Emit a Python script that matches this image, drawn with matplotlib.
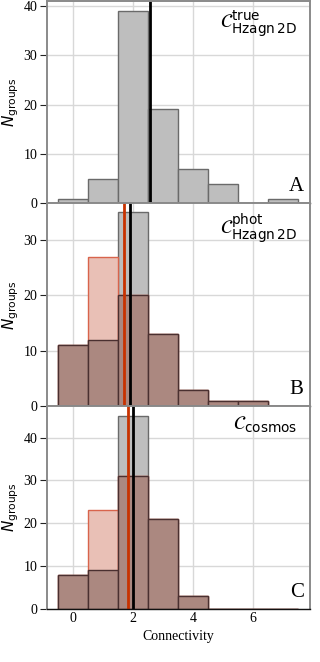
import numpy as np
import matplotlib
matplotlib.use("Agg")
import matplotlib.pyplot as plt

plt.rcParams['font.family'] = ['Liberation Serif', 'DejaVu Serif']
plt.rcParams['mathtext.fontset'] = 'dejavusans'

# connectivity bins (centres), width 1
bins = [0, 1, 2, 3, 4, 5, 6, 7]

# panel A: true connectivity (gray only)
true_gray = [1, 5, 39, 19, 7, 4, 0, 1]
true_mean = 2.57

# panel B: photometric
phot_gray = [11, 12, 35, 13, 3, 1, 1, 0]
phot_red = [11, 27, 20, 13, 3, 1, 1, 0]
phot_mean_gray = 1.88
phot_mean_red = 1.70

# panel C: cosmos
cosmos_gray = [8, 9, 45, 21, 3, 0, 0, 0]
cosmos_red = [8, 23, 31, 21, 3, 0, 0, 0]
cosmos_mean_gray = 2.01
cosmos_mean_red = 1.84

panel_labels = ['A', 'B', 'C']
names = [r'$\mathcal{C}^{\rm true}_{\rm Hzagn\,2D}$',
         r'$\mathcal{C}^{\rm phot}_{\rm Hzagn\,2D}$',
         r'$\mathcal{C}_{\rm cosmos}$']

GRAY = '#bebebe'
GRAY_EDGE = '#6a6a6a'
PINK = '#e9c0b6'
PINK_EDGE = '#d8644c'
BROWN = '#ab8880'
BROWN_EDGE = '#4a3030'
RED = '#c83200'

fig = plt.figure(figsize=(3.2, 6.62), dpi=100)
fig.subplots_adjust(left=0.147, right=0.969, top=0.999, bottom=0.08, hspace=0)
axes = fig.subplots(3, 1, sharex=True)

data = [(true_gray, None, true_mean, None, 41),
        (phot_gray, phot_red, phot_mean_gray, phot_mean_red, 36.6),
        (cosmos_gray, cosmos_red, cosmos_mean_gray, cosmos_mean_red, 47.3)]
yticks = [[0, 10, 20, 30, 40], [0, 10, 20, 30], [0, 10, 20, 30, 40]]

for i, ax in enumerate(axes):
    gray, red, mg, mr, ytop = data[i]
    ax.set_axisbelow(True)
    ax.grid(True, color='#d8d8d8', lw=1)
    ax.bar(bins, gray, width=1, color=GRAY, edgecolor=GRAY_EDGE, lw=1)
    if red is not None:
        ax.bar(bins, red, width=1, color=PINK, edgecolor=PINK_EDGE, lw=1)
        overlap = np.minimum(gray, red)
        ax.bar(bins, overlap, width=1, color=BROWN, edgecolor=BROWN_EDGE, lw=1)
        ax.axvline(mr, color=RED, lw=2)
    ax.axvline(mg, color='black', lw=2)

    ax.set_xlim(-0.87, 7.9)
    ax.set_ylim(0, ytop)
    ax.set_yticks(yticks[i])
    ax.set_xticks([0, 2, 4, 6])
    ax.tick_params(axis='both', labelsize=10, direction='out', length=5,
                   color='#222222', pad=2)
    ax.tick_params(axis='x', length=0)
    ax.set_ylabel(r'$N_{\rm groups}$', fontsize=11, labelpad=2)

    for side in ['left', 'right', 'top']:
        ax.spines[side].set_color('#8a8a8a')
        ax.spines[side].set_linewidth(1.4)
    ax.spines['bottom'].set_color('#111111')
    ax.spines['bottom'].set_linewidth(1.0)

    ax.text(0.975, 0.035, panel_labels[i], transform=ax.transAxes,
            ha='right', va='bottom', fontsize=15)
    ax.text(0.95, 0.96, names[i], transform=ax.transAxes,
            ha='right', va='top', fontsize=14)

axes[-1].set_xlabel('Connectivity', fontsize=10, labelpad=4)

fig.savefig('out.png', dpi=100)
